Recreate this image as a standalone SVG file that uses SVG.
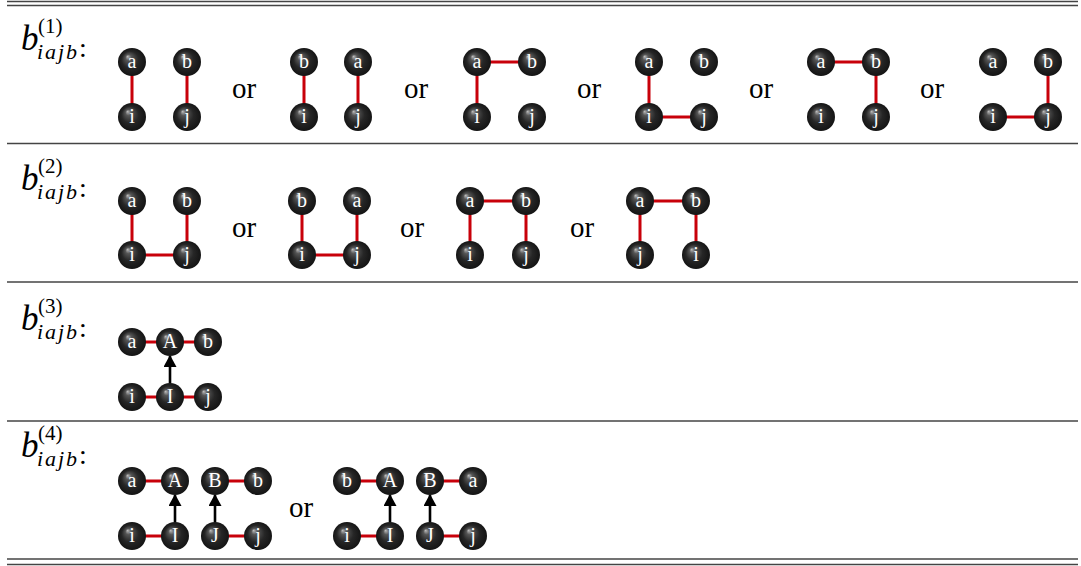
<svg xmlns="http://www.w3.org/2000/svg" width="1081" height="566" viewBox="0 0 1081 566">
<defs>
<radialGradient id="ball" cx="50%" cy="50%" r="50%" fx="34%" fy="30%">
<stop offset="0%" stop-color="#bdbdbd"/>
<stop offset="22%" stop-color="#555"/>
<stop offset="60%" stop-color="#262626"/>
<stop offset="100%" stop-color="#141414"/>
</radialGradient>
<marker id="ah" markerUnits="userSpaceOnUse" markerWidth="13" markerHeight="13" refX="11" refY="6.5" orient="auto">
<path d="M0,0 L12,6.5 L0,13 z" fill="#000"/>
</marker>
</defs>
<rect width="1081" height="566" fill="#fff"/>
<g id="rules" stroke="#444" stroke-width="1.3">
<line x1="7" y1="1.5" x2="1078" y2="1.5"/>
<line x1="7" y1="5.5" x2="1078" y2="5.5"/>
<line x1="7" y1="143.5" x2="1078" y2="143.5"/>
<line x1="7" y1="282" x2="1078" y2="282"/>
<line x1="7" y1="421" x2="1078" y2="421"/>
<line x1="7" y1="559" x2="1078" y2="559"/>
<line x1="7" y1="564.5" x2="1078" y2="564.5"/>
</g>
<g id="labels" fill="#000">
<g id="label1"><text font-family="Liberation Serif" font-style="italic" font-size="35" x="21" y="50">b</text><text font-family="Liberation Serif" font-size="21" x="38" y="33">(1)</text><text font-family="Liberation Serif" font-style="italic" font-size="22" x="37" y="59" textLength="40">iajb</text><text font-family="Liberation Serif" font-size="28" x="79" y="57">:</text></g>
<g id="label2"><text font-family="Liberation Serif" font-style="italic" font-size="35" x="21" y="190">b</text><text font-family="Liberation Serif" font-size="21" x="38" y="173">(2)</text><text font-family="Liberation Serif" font-style="italic" font-size="22" x="37" y="199" textLength="40">iajb</text><text font-family="Liberation Serif" font-size="28" x="79" y="197">:</text></g>
<g id="label3"><text font-family="Liberation Serif" font-style="italic" font-size="35" x="21" y="330">b</text><text font-family="Liberation Serif" font-size="21" x="38" y="313">(3)</text><text font-family="Liberation Serif" font-style="italic" font-size="22" x="37" y="339" textLength="40">iajb</text><text font-family="Liberation Serif" font-size="28" x="79" y="337">:</text></g>
<g id="label4"><text font-family="Liberation Serif" font-style="italic" font-size="35" x="21" y="457">b</text><text font-family="Liberation Serif" font-size="21" x="38" y="440">(4)</text><text font-family="Liberation Serif" font-style="italic" font-size="22" x="37" y="466" textLength="40">iajb</text><text font-family="Liberation Serif" font-size="28" x="79" y="464">:</text></g>
</g>
<g id="ors" fill="#000" text-anchor="middle">
<text font-family="Liberation Serif" font-size="29" x="244" y="98">or</text>
<text font-family="Liberation Serif" font-size="29" x="416" y="98">or</text>
<text font-family="Liberation Serif" font-size="29" x="589" y="98">or</text>
<text font-family="Liberation Serif" font-size="29" x="761" y="98">or</text>
<text font-family="Liberation Serif" font-size="29" x="932" y="98">or</text>
<text font-family="Liberation Serif" font-size="29" x="244" y="237">or</text>
<text font-family="Liberation Serif" font-size="29" x="412" y="237">or</text>
<text font-family="Liberation Serif" font-size="29" x="582" y="237">or</text>
<text font-family="Liberation Serif" font-size="29" x="301" y="517">or</text>
</g>
<g id="connectors">
<g stroke="#c8000a" stroke-width="3" fill="none">
<path d="M132,62V117 M187,62V117"/>
<path d="M304,62V117 M358,62V117"/>
<path d="M477,62H532 M477,62V117"/>
<path d="M649,62V117 M649,117H704"/>
<path d="M821,62H876 M876,62V117"/>
<path d="M1048,62V117 M993,117H1048"/>
<path d="M132,201V255 M187,201V255 M132,255H187"/>
<path d="M302,201V255 M357,201V255 M302,255H357"/>
<path d="M470,201H526 M470,201V255 M526,201V255"/>
<path d="M640,201H696 M640,201V255 M696,201V255"/>
<path d="M132,342H208 M132,397H208"/>
<path d="M132,481H175 M215,481H258 M132,536H175 M215,536H258"/>
<path d="M347,481H390 M430,481H473 M347,536H390 M430,536H473"/>
</g>
<g stroke="#000" stroke-width="2.6" fill="none" marker-end="url(#ah)">
<line x1="170" y1="383.5" x2="170" y2="356"/>
<line x1="175" y1="522.5" x2="175" y2="495"/>
<line x1="215" y1="522.5" x2="215" y2="495"/>
<line x1="390" y1="522.5" x2="390" y2="495"/>
<line x1="430" y1="522.5" x2="430" y2="495"/>
</g>
</g>
<g id="nodes" fill="url(#ball)">
<g id="r1g1a"><circle cx="132" cy="62" r="14"/><text fill="#fff" text-anchor="middle" font-family="Liberation Serif" font-size="20" x="132" y="68">a</text></g>
<g id="r1g1b"><circle cx="187" cy="62" r="14"/><text fill="#fff" text-anchor="middle" font-family="Liberation Serif" font-size="20" x="187" y="68">b</text></g>
<g id="r1g1i"><circle cx="132" cy="117" r="14"/><text fill="#fff" text-anchor="middle" font-family="Liberation Serif" font-size="20" x="132" y="123">i</text></g>
<g id="r1g1j"><circle cx="187" cy="117" r="14"/><text fill="#fff" text-anchor="middle" font-family="Liberation Serif" font-size="20" x="187" y="123">j</text></g>
<g id="r1g2b"><circle cx="304" cy="62" r="14"/><text fill="#fff" text-anchor="middle" font-family="Liberation Serif" font-size="20" x="304" y="68">b</text></g>
<g id="r1g2a"><circle cx="358" cy="62" r="14"/><text fill="#fff" text-anchor="middle" font-family="Liberation Serif" font-size="20" x="358" y="68">a</text></g>
<g id="r1g2i"><circle cx="304" cy="117" r="14"/><text fill="#fff" text-anchor="middle" font-family="Liberation Serif" font-size="20" x="304" y="123">i</text></g>
<g id="r1g2j"><circle cx="358" cy="117" r="14"/><text fill="#fff" text-anchor="middle" font-family="Liberation Serif" font-size="20" x="358" y="123">j</text></g>
<g id="r1g3a"><circle cx="477" cy="62" r="14"/><text fill="#fff" text-anchor="middle" font-family="Liberation Serif" font-size="20" x="477" y="68">a</text></g>
<g id="r1g3b"><circle cx="532" cy="62" r="14"/><text fill="#fff" text-anchor="middle" font-family="Liberation Serif" font-size="20" x="532" y="68">b</text></g>
<g id="r1g3i"><circle cx="477" cy="117" r="14"/><text fill="#fff" text-anchor="middle" font-family="Liberation Serif" font-size="20" x="477" y="123">i</text></g>
<g id="r1g3j"><circle cx="532" cy="117" r="14"/><text fill="#fff" text-anchor="middle" font-family="Liberation Serif" font-size="20" x="532" y="123">j</text></g>
<g id="r1g4a"><circle cx="649" cy="62" r="14"/><text fill="#fff" text-anchor="middle" font-family="Liberation Serif" font-size="20" x="649" y="68">a</text></g>
<g id="r1g4b"><circle cx="704" cy="62" r="14"/><text fill="#fff" text-anchor="middle" font-family="Liberation Serif" font-size="20" x="704" y="68">b</text></g>
<g id="r1g4i"><circle cx="649" cy="117" r="14"/><text fill="#fff" text-anchor="middle" font-family="Liberation Serif" font-size="20" x="649" y="123">i</text></g>
<g id="r1g4j"><circle cx="704" cy="117" r="14"/><text fill="#fff" text-anchor="middle" font-family="Liberation Serif" font-size="20" x="704" y="123">j</text></g>
<g id="r1g5a"><circle cx="821" cy="62" r="14"/><text fill="#fff" text-anchor="middle" font-family="Liberation Serif" font-size="20" x="821" y="68">a</text></g>
<g id="r1g5b"><circle cx="876" cy="62" r="14"/><text fill="#fff" text-anchor="middle" font-family="Liberation Serif" font-size="20" x="876" y="68">b</text></g>
<g id="r1g5i"><circle cx="821" cy="117" r="14"/><text fill="#fff" text-anchor="middle" font-family="Liberation Serif" font-size="20" x="821" y="123">i</text></g>
<g id="r1g5j"><circle cx="876" cy="117" r="14"/><text fill="#fff" text-anchor="middle" font-family="Liberation Serif" font-size="20" x="876" y="123">j</text></g>
<g id="r1g6a"><circle cx="993" cy="62" r="14"/><text fill="#fff" text-anchor="middle" font-family="Liberation Serif" font-size="20" x="993" y="68">a</text></g>
<g id="r1g6b"><circle cx="1048" cy="62" r="14"/><text fill="#fff" text-anchor="middle" font-family="Liberation Serif" font-size="20" x="1048" y="68">b</text></g>
<g id="r1g6i"><circle cx="993" cy="117" r="14"/><text fill="#fff" text-anchor="middle" font-family="Liberation Serif" font-size="20" x="993" y="123">i</text></g>
<g id="r1g6j"><circle cx="1048" cy="117" r="14"/><text fill="#fff" text-anchor="middle" font-family="Liberation Serif" font-size="20" x="1048" y="123">j</text></g>
<g id="r2g1a"><circle cx="132" cy="201" r="14"/><text fill="#fff" text-anchor="middle" font-family="Liberation Serif" font-size="20" x="132" y="207">a</text></g>
<g id="r2g1b"><circle cx="187" cy="201" r="14"/><text fill="#fff" text-anchor="middle" font-family="Liberation Serif" font-size="20" x="187" y="207">b</text></g>
<g id="r2g1i"><circle cx="132" cy="255" r="14"/><text fill="#fff" text-anchor="middle" font-family="Liberation Serif" font-size="20" x="132" y="261">i</text></g>
<g id="r2g1j"><circle cx="187" cy="255" r="14"/><text fill="#fff" text-anchor="middle" font-family="Liberation Serif" font-size="20" x="187" y="261">j</text></g>
<g id="r2g2b"><circle cx="302" cy="201" r="14"/><text fill="#fff" text-anchor="middle" font-family="Liberation Serif" font-size="20" x="302" y="207">b</text></g>
<g id="r2g2a"><circle cx="357" cy="201" r="14"/><text fill="#fff" text-anchor="middle" font-family="Liberation Serif" font-size="20" x="357" y="207">a</text></g>
<g id="r2g2i"><circle cx="302" cy="255" r="14"/><text fill="#fff" text-anchor="middle" font-family="Liberation Serif" font-size="20" x="302" y="261">i</text></g>
<g id="r2g2j"><circle cx="357" cy="255" r="14"/><text fill="#fff" text-anchor="middle" font-family="Liberation Serif" font-size="20" x="357" y="261">j</text></g>
<g id="r2g3a"><circle cx="470" cy="201" r="14"/><text fill="#fff" text-anchor="middle" font-family="Liberation Serif" font-size="20" x="470" y="207">a</text></g>
<g id="r2g3b"><circle cx="526" cy="201" r="14"/><text fill="#fff" text-anchor="middle" font-family="Liberation Serif" font-size="20" x="526" y="207">b</text></g>
<g id="r2g3i"><circle cx="470" cy="255" r="14"/><text fill="#fff" text-anchor="middle" font-family="Liberation Serif" font-size="20" x="470" y="261">i</text></g>
<g id="r2g3j"><circle cx="526" cy="255" r="14"/><text fill="#fff" text-anchor="middle" font-family="Liberation Serif" font-size="20" x="526" y="261">j</text></g>
<g id="r2g4a"><circle cx="640" cy="201" r="14"/><text fill="#fff" text-anchor="middle" font-family="Liberation Serif" font-size="20" x="640" y="207">a</text></g>
<g id="r2g4b"><circle cx="696" cy="201" r="14"/><text fill="#fff" text-anchor="middle" font-family="Liberation Serif" font-size="20" x="696" y="207">b</text></g>
<g id="r2g4j"><circle cx="640" cy="255" r="14"/><text fill="#fff" text-anchor="middle" font-family="Liberation Serif" font-size="20" x="640" y="261">j</text></g>
<g id="r2g4i"><circle cx="696" cy="255" r="14"/><text fill="#fff" text-anchor="middle" font-family="Liberation Serif" font-size="20" x="696" y="261">i</text></g>
<g id="r3a"><circle cx="132" cy="342" r="14"/><text fill="#fff" text-anchor="middle" font-family="Liberation Serif" font-size="20" x="132" y="348">a</text></g>
<g id="r3A"><circle cx="170" cy="342" r="14"/><text fill="#fff" text-anchor="middle" font-family="Liberation Serif" font-size="20" x="170" y="348">A</text></g>
<g id="r3b"><circle cx="208" cy="342" r="14"/><text fill="#fff" text-anchor="middle" font-family="Liberation Serif" font-size="20" x="208" y="348">b</text></g>
<g id="r3i"><circle cx="132" cy="397" r="14"/><text fill="#fff" text-anchor="middle" font-family="Liberation Serif" font-size="20" x="132" y="403">i</text></g>
<g id="r3I"><circle cx="170" cy="397" r="14"/><text fill="#fff" text-anchor="middle" font-family="Liberation Serif" font-size="20" x="170" y="403">I</text></g>
<g id="r3j"><circle cx="208" cy="397" r="14"/><text fill="#fff" text-anchor="middle" font-family="Liberation Serif" font-size="20" x="208" y="403">j</text></g>
<g id="r4g1a"><circle cx="132" cy="481" r="14"/><text fill="#fff" text-anchor="middle" font-family="Liberation Serif" font-size="20" x="132" y="487">a</text></g>
<g id="r4g1A"><circle cx="175" cy="481" r="14"/><text fill="#fff" text-anchor="middle" font-family="Liberation Serif" font-size="20" x="175" y="487">A</text></g>
<g id="r4g1B"><circle cx="215" cy="481" r="14"/><text fill="#fff" text-anchor="middle" font-family="Liberation Serif" font-size="20" x="215" y="487">B</text></g>
<g id="r4g1b"><circle cx="258" cy="481" r="14"/><text fill="#fff" text-anchor="middle" font-family="Liberation Serif" font-size="20" x="258" y="487">b</text></g>
<g id="r4g1i"><circle cx="132" cy="536" r="14"/><text fill="#fff" text-anchor="middle" font-family="Liberation Serif" font-size="20" x="132" y="542">i</text></g>
<g id="r4g1I"><circle cx="175" cy="536" r="14"/><text fill="#fff" text-anchor="middle" font-family="Liberation Serif" font-size="20" x="175" y="542">I</text></g>
<g id="r4g1J"><circle cx="215" cy="536" r="14"/><text fill="#fff" text-anchor="middle" font-family="Liberation Serif" font-size="20" x="215" y="542">J</text></g>
<g id="r4g1j"><circle cx="258" cy="536" r="14"/><text fill="#fff" text-anchor="middle" font-family="Liberation Serif" font-size="20" x="258" y="542">j</text></g>
<g id="r4g2b"><circle cx="347" cy="481" r="14"/><text fill="#fff" text-anchor="middle" font-family="Liberation Serif" font-size="20" x="347" y="487">b</text></g>
<g id="r4g2A"><circle cx="390" cy="481" r="14"/><text fill="#fff" text-anchor="middle" font-family="Liberation Serif" font-size="20" x="390" y="487">A</text></g>
<g id="r4g2B"><circle cx="430" cy="481" r="14"/><text fill="#fff" text-anchor="middle" font-family="Liberation Serif" font-size="20" x="430" y="487">B</text></g>
<g id="r4g2a"><circle cx="473" cy="481" r="14"/><text fill="#fff" text-anchor="middle" font-family="Liberation Serif" font-size="20" x="473" y="487">a</text></g>
<g id="r4g2i"><circle cx="347" cy="536" r="14"/><text fill="#fff" text-anchor="middle" font-family="Liberation Serif" font-size="20" x="347" y="542">i</text></g>
<g id="r4g2I"><circle cx="390" cy="536" r="14"/><text fill="#fff" text-anchor="middle" font-family="Liberation Serif" font-size="20" x="390" y="542">I</text></g>
<g id="r4g2J"><circle cx="430" cy="536" r="14"/><text fill="#fff" text-anchor="middle" font-family="Liberation Serif" font-size="20" x="430" y="542">J</text></g>
<g id="r4g2j"><circle cx="473" cy="536" r="14"/><text fill="#fff" text-anchor="middle" font-family="Liberation Serif" font-size="20" x="473" y="542">j</text></g>
</g>
</svg>
